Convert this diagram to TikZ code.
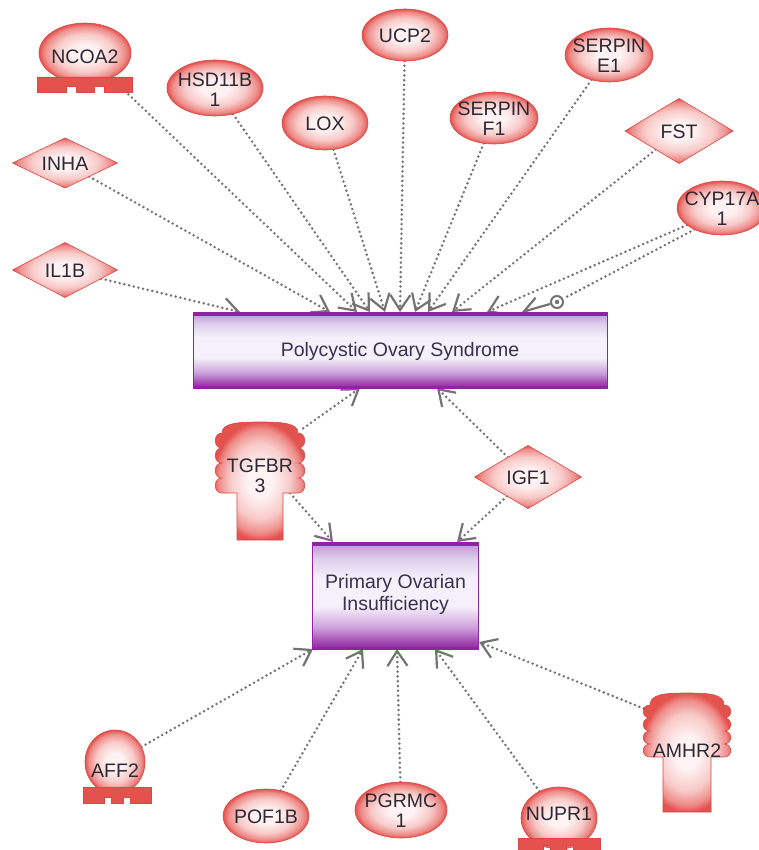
\documentclass[tikz,border=0pt]{standalone}
\usepackage{fontspec}
\setmainfont{Liberation Sans}
\usetikzlibrary{arrows.meta,shapes.geometric}
\pgfdeclarelayer{bg}
\pgfsetlayers{bg,main}

\definecolor{rout}{RGB}{228,82,78}
\definecolor{rmid}{RGB}{238,140,137}
\definecolor{rmid2}{RGB}{248,202,200}
\definecolor{rin}{RGB}{254,242,242}
\definecolor{redge}{RGB}{216,72,68}
\definecolor{txt}{RGB}{45,40,50}
\definecolor{boxtxt}{RGB}{55,50,80}
\definecolor{edgegray}{RGB}{115,115,115}
\definecolor{pdark}{RGB}{145,35,160}
\definecolor{pdeep}{RGB}{165,80,180}
\definecolor{pmidb}{RGB}{205,160,220}
\definecolor{plight}{RGB}{245,241,250}
\definecolor{plav}{RGB}{222,208,236}
\definecolor{pmidt}{RGB}{195,160,218}

\pgfdeclareradialshading{ballshade}{\pgfpoint{0bp}{0bp}}{color(0bp)=(rin); color(7bp)=(rin); color(16bp)=(rmid2); color(22bp)=(rmid); color(25bp)=(rout); color(50bp)=(rout)}
\pgfdeclareverticalshading{boxshade}{100bp}{color(0bp)=(pdark); color(25bp)=(pdark); color(29bp)=(pdeep); color(35bp)=(pmidb); color(45bp)=(plight); color(58bp)=(plight); color(67bp)=(plav); color(73bp)=(pmidt); color(75bp)=(pmidt); color(100bp)=(pmidt)}

\begin{document}
\begin{tikzpicture}[x=1pt,y=-1pt,
 lbl/.style={font=\fontsize{19.5}{20}\selectfont, text=txt, align=center, inner sep=0pt},
 gene/.style={shade, shading=ballshade, draw=redge, line width=0.6pt, inner sep=0pt, outer sep=0pt},
 ell/.style={gene, ellipse},
 dia/.style={gene, diamond},
 pbox/.style={shade, shading=boxshade, draw=pdark, line width=1pt, inner sep=0pt},
 hid/.style={rectangle, inner sep=0pt, draw=none},
 rel/.style={draw=edgegray, line width=2.8pt, line cap=round, dash pattern=on 0pt off 4.8pt},
 arr/.style={-{Straight Barb[length=15pt,width=20pt,line width=2.2pt]}},
 comb/.style={fill=rout, draw=redge, line width=0.5pt},
 recshape/.style={shading=ballshade, draw=redge, line width=0.6pt}
]
\useasboundingbox (0,0) rectangle (758,850);

% ---- disease boxes
\node[pbox, minimum width=414pt, minimum height=76pt] (pcos) at (400,350) {};
\draw[pdark, line width=4pt] ([yshift=-2pt]pcos.north west) -- ([yshift=-2pt]pcos.north east);
\draw[pdark, line width=3pt] ([yshift=1.5pt]pcos.south west) -- ([yshift=1.5pt]pcos.south east);
\node[lbl, text=boxtxt] (pcos-t) at (400,351) {Polycystic Ovary Syndrome};

\node[pbox, minimum width=166pt, minimum height=107pt] (poi) at (395.5,595.5) {};
\draw[pdark, line width=4pt] ([yshift=-2pt]poi.north west) -- ([yshift=-2pt]poi.north east);
\draw[pdark, line width=3pt] ([yshift=1.5pt]poi.south west) -- ([yshift=1.5pt]poi.south east);
\node[lbl, text=boxtxt, font=\fontsize{19.5}{22}\selectfont] (poi-t) at (395.5,594) {Primary Ovarian\\Insufficiency};

% ---- upper genes
\node[ell, minimum width=92pt, minimum height=60pt] (ncoa2) at (85,53) {};
\draw[comb] (37,77) -- (132,77) -- (132,92) -- (104,92) -- (104,86) -- (94,86) -- (94,92) -- (76,92) -- (76,86) -- (66,86) -- (66,92) -- (37,92) -- cycle;
\node[lbl] (ncoa2-t) at (85,57) {NCOA2};

\node[ell, minimum width=96pt, minimum height=56pt] (hsd) at (215,88) {};
\node[lbl] (hsd-t) at (215,90) {HSD11B\\1};

\node[ell, minimum width=86pt, minimum height=54pt] (lox) at (325,123) {};
\node[lbl] (lox-t) at (325,124) {LOX};

\node[ell, minimum width=86pt, minimum height=52pt] (ucp2) at (405,35) {};
\node[lbl] (ucp2-t) at (405,36) {UCP2};

\node[ell, minimum width=88pt, minimum height=52pt] (serpf1) at (494,118) {};
\node[lbl] (serpf1-t) at (494,119) {SERPIN\\F1};

\node[ell, minimum width=88pt, minimum height=54pt] (serpe1) at (609,55) {};
\node[lbl] (serpe1-t) at (609,56) {SERPIN\\E1};

\node[ell, minimum width=90pt, minimum height=54pt] (cyp) at (722,208) {};
\node[lbl] (cyp-t) at (722,209) {CYP17A\\1};

\node[dia, minimum width=105pt, minimum height=50pt] (inha) at (65,163) {};
\node[lbl] (inha-t) at (65,164) {INHA};

\node[dia, minimum width=105pt, minimum height=55pt] (il1b) at (65,270) {};
\node[lbl] (il1b-t) at (65,271) {IL1B};

\node[dia, minimum width=108pt, minimum height=65pt] (fst) at (679,131) {};
\node[lbl] (fst-t) at (679,132) {FST};

% ---- middle genes
\shadedraw[recshape] (237,540) -- (237,493) -- (222,493)
 .. controls +(-9,0) and +(-9,0) .. ++(0,-15)
 .. controls +(-9,0) and +(-9,0) .. ++(0,-15)
 .. controls +(-9,0) and +(-9,0) .. ++(0,-15)
 .. controls +(-9,0) and +(-9,0) .. ++(0,-15)
 .. controls (222,423) and (238,422) .. (260,422)
 .. controls (282,422) and (298,423) .. (298,433)
 .. controls +(9,0) and +(9,0) .. ++(0,15)
 .. controls +(9,0) and +(9,0) .. ++(0,15)
 .. controls +(9,0) and +(9,0) .. ++(0,15)
 .. controls +(9,0) and +(9,0) .. ++(0,15)
 -- (283,493) -- (283,540) -- cycle;
\node[hid, minimum width=86pt, minimum height=68pt] (tgfbr3) at (260,459) {};
\node[lbl] (tgfbr3-t) at (260,476) {TGFBR\\3};

\node[dia, minimum width=107pt, minimum height=63pt] (igf1) at (528,477) {};
\node[lbl] (igf1-t) at (528,478) {IGF1};

% ---- lower genes
\node[ell, minimum width=60pt, minimum height=64pt] (aff2) at (115,762) {};
\draw[comb] (83,787) -- (151,787) -- (151,803) -- (130,803) -- (130,797) -- (123,797) -- (123,803) -- (111,803) -- (111,797) -- (104,797) -- (104,803) -- (83,803) -- cycle;
\node[lbl] (aff2-t) at (115,771) {AFF2};

\node[ell, minimum width=86pt, minimum height=54pt] (pof1b) at (266,816) {};
\node[lbl] (pof1b-t) at (266,817) {POF1B};

\node[ell, minimum width=92pt, minimum height=56pt] (pgrmc1) at (401,810) {};
\node[lbl] (pgrmc1-t) at (401,811) {PGRMC\\1};

\node[ell, minimum width=76pt, minimum height=62pt] (nupr1) at (559,818) {};
\draw[comb] (518,838) -- (600,838) -- (600,858) -- (573,858) -- (573,845) -- (566,845) -- (566,858) -- (550,858) -- (550,845) -- (543,845) -- (543,858) -- (518,858) -- cycle;
\node[lbl] (nupr1-t) at (559,814) {NUPR1};

\shadedraw[recshape] (663,812) -- (663,757) -- (650,757)
 .. controls +(-9,0) and +(-9,0) .. ++(0,-13)
 .. controls +(-9,0) and +(-9,0) .. ++(0,-13)
 .. controls +(-9,0) and +(-9,0) .. ++(0,-13)
 .. controls +(-9,0) and +(-9,0) .. ++(0,-13)
 .. controls (650,694) and (665,693) .. (687,693)
 .. controls (709,693) and (724,694) .. (724,705)
 .. controls +(9,0) and +(9,0) .. ++(0,13)
 .. controls +(9,0) and +(9,0) .. ++(0,13)
 .. controls +(9,0) and +(9,0) .. ++(0,13)
 .. controls +(9,0) and +(9,0) .. ++(0,13)
 -- (711,757) -- (711,812) -- cycle;
\node[hid, minimum width=86pt, minimum height=62pt] (amhr2) at (687,726) {};
\node[lbl] (amhr2-t) at (687,751) {AMHR2};

% ---- circle marker
\node[circle, draw=edgegray, line width=2pt, fill=white, minimum size=12pt, inner sep=0pt] (cm) at (557,302) {};
\fill[edgegray] (cm.center) circle (2.2pt);

% ---- target points
\coordinate (a1) at (240,312);
\coordinate (a2) at (330,312);
\coordinate (a3) at (357,312);
\coordinate (a4) at (370,312);
\coordinate (a5) at (385,312);
\coordinate (a6) at (400,312);
\coordinate (a7) at (415,312);
\coordinate (a8) at (428,312);
\coordinate (a9) at (452,312);
\coordinate (a10) at (487,312);
\coordinate (a11) at (522,312);
\coordinate (b1) at (360,388);
\coordinate (b2) at (437,388);
\coordinate (c1) at (333,542);
\coordinate (c2) at (457,542);
\coordinate (d1) at (313,649);
\coordinate (d2) at (363,649);
\coordinate (d3) at (397,649);
\coordinate (d4) at (435,649);
\coordinate (d5) at (479,642);

\begin{pgfonlayer}{bg}
\fill[white] (0,0) rectangle (758,850);
\draw[rel,arr] (il1b) -- (a1);
\draw[rel,arr] (inha) -- (a2);
\draw[rel,arr] (ncoa2) -- (a3);
\draw[rel,arr] (hsd) -- (a4);
\draw[rel,arr] (lox) -- (a5);
\draw[rel,arr] (ucp2) -- (a6);
\draw[rel,arr] (serpf1) -- (a7);
\draw[rel,arr] (serpe1) -- (a8);
\draw[rel,arr] (fst) -- (a9);
\draw[rel,arr] (cyp.206) -- (a10);
\draw[rel] (cyp.218) -- (cm);
\draw[edgegray, line width=2.2pt, arr] (cm) -- (a11);
\draw[rel,arr] (tgfbr3) -- (b1);
\draw[rel,arr] (igf1) -- (b2);
\draw[rel,arr] (tgfbr3) -- (c1);
\draw[rel,arr] (igf1) -- (c2);
\draw[rel,arr] (aff2) -- (d1);
\draw[rel,arr] (pof1b) -- (d2);
\draw[rel,arr] (pgrmc1) -- (d3);
\draw[rel,arr] (nupr1) -- (d4);
\draw[rel,arr] (amhr2) -- (d5);
\end{pgfonlayer}
\end{tikzpicture}
\end{document}
